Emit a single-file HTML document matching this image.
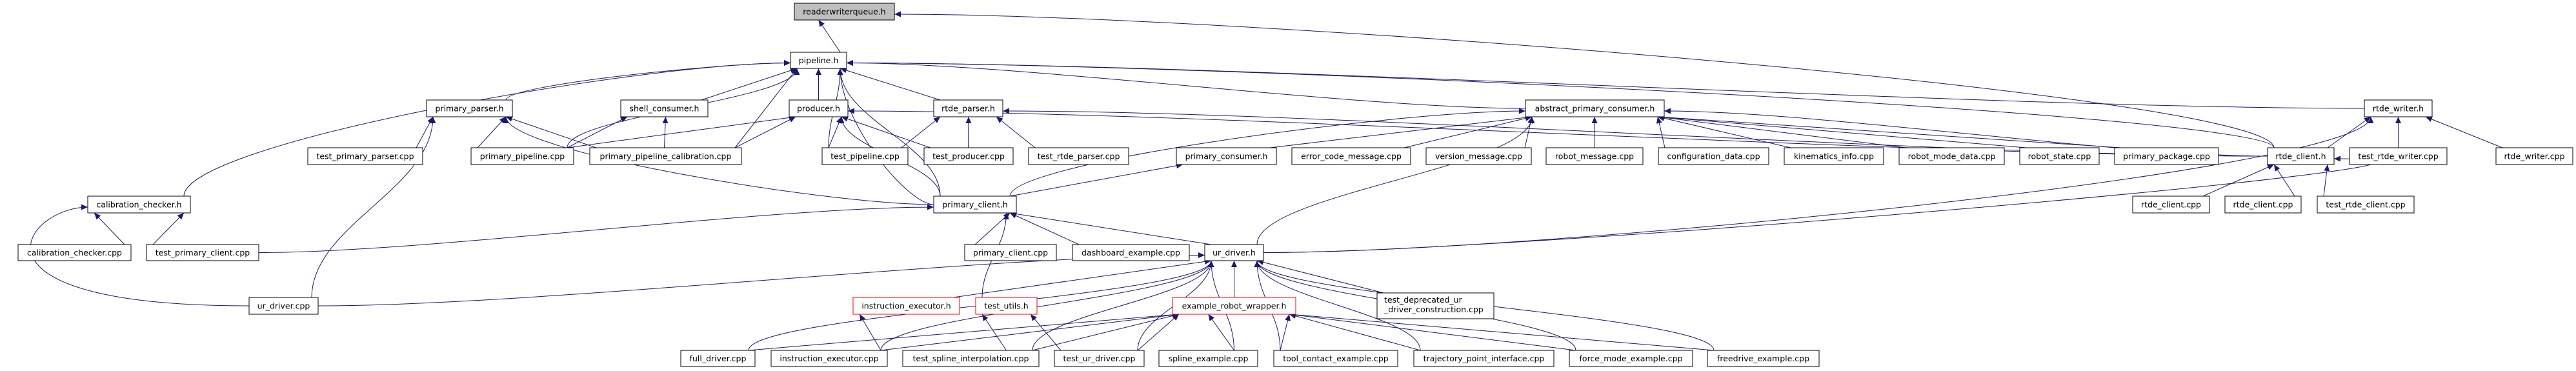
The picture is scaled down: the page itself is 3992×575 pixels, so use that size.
<!DOCTYPE html>
<html><head><meta charset="utf-8"><style>
html,body{margin:0;padding:0;background:#fff;width:3992px;height:575px;overflow:hidden}
svg{display:block}
text{font-family:"DejaVu Sans","Liberation Sans",sans-serif;font-size:12.5px;fill:#000}
</style></head><body>
<svg id="g" width="3992" height="575" xmlns="http://www.w3.org/2000/svg">
<defs><marker id="a" markerUnits="userSpaceOnUse" markerWidth="11" markerHeight="9" refX="10" refY="4.5" orient="auto"><path d="M0,0 L10,4.5 L0,9 z" fill="#191970"/></marker></defs>
<g id="edges" fill="none" stroke="#191970" stroke-width="1"></g>
<g id="nodes">
<rect x="1231" y="5" width="155" height="26" fill="#bfbfbf" stroke="#000"/><text x="1308.5" y="22.5" text-anchor="middle">readerwriterqueue.h</text>
<rect x="1225" y="81" width="87" height="25" fill="#fff" stroke="#000"/><text x="1268.5" y="98" text-anchor="middle">pipeline.h</text>
<rect x="661" y="155" width="133" height="26" fill="#fff" stroke="#000"/><text x="727.5" y="172.5" text-anchor="middle">primary_parser.h</text>
<rect x="962" y="155" width="135" height="26" fill="#fff" stroke="#000"/><text x="1029.5" y="172.5" text-anchor="middle">shell_consumer.h</text>
<rect x="1223" y="155" width="91" height="26" fill="#fff" stroke="#000"/><text x="1268.5" y="172.5" text-anchor="middle">producer.h</text>
<rect x="1447" y="155" width="107" height="26" fill="#fff" stroke="#000"/><text x="1500.5" y="172.5" text-anchor="middle">rtde_parser.h</text>
<rect x="2364" y="155" width="215" height="26" fill="#fff" stroke="#000"/><text x="2471.5" y="172.5" text-anchor="middle">abstract_primary_consumer.h</text>
<rect x="3664" y="155" width="105" height="26" fill="#fff" stroke="#000"/><text x="3716.5" y="172.5" text-anchor="middle">rtde_writer.h</text>
<rect x="477" y="229" width="178" height="26" fill="#fff" stroke="#000"/><text x="566" y="246.5" text-anchor="middle">test_primary_parser.cpp</text>
<rect x="730" y="229" width="159" height="26" fill="#fff" stroke="#000"/><text x="809.5" y="246.5" text-anchor="middle">primary_pipeline.cpp</text>
<rect x="914" y="229" width="235" height="26" fill="#fff" stroke="#000"/><text x="1031.5" y="246.5" text-anchor="middle">primary_pipeline_calibration.cpp</text>
<rect x="1274" y="229" width="133" height="26" fill="#fff" stroke="#000"/><text x="1340.5" y="246.5" text-anchor="middle">test_pipeline.cpp</text>
<rect x="1432" y="229" width="138" height="26" fill="#fff" stroke="#000"/><text x="1501" y="246.5" text-anchor="middle">test_producer.cpp</text>
<rect x="1594" y="229" width="155" height="26" fill="#fff" stroke="#000"/><text x="1671.5" y="246.5" text-anchor="middle">test_rtde_parser.cpp</text>
<rect x="1823" y="229" width="155" height="26" fill="#fff" stroke="#000"/><text x="1900.5" y="246.5" text-anchor="middle">primary_consumer.h</text>
<rect x="2002" y="229" width="184" height="26" fill="#fff" stroke="#000"/><text x="2094" y="246.5" text-anchor="middle">error_code_message.cpp</text>
<rect x="2210" y="229" width="163" height="26" fill="#fff" stroke="#000"/><text x="2291.5" y="246.5" text-anchor="middle">version_message.cpp</text>
<rect x="2396" y="229" width="150" height="26" fill="#fff" stroke="#000"/><text x="2471" y="246.5" text-anchor="middle">robot_message.cpp</text>
<rect x="2570" y="229" width="171" height="26" fill="#fff" stroke="#000"/><text x="2655.5" y="246.5" text-anchor="middle">configuration_data.cpp</text>
<rect x="2765" y="229" width="154" height="26" fill="#fff" stroke="#000"/><text x="2842" y="246.5" text-anchor="middle">kinematics_info.cpp</text>
<rect x="2943" y="229" width="163" height="26" fill="#fff" stroke="#000"/><text x="3024.5" y="246.5" text-anchor="middle">robot_mode_data.cpp</text>
<rect x="3130" y="229" width="123" height="26" fill="#fff" stroke="#000"/><text x="3191.5" y="246.5" text-anchor="middle">robot_state.cpp</text>
<rect x="3277" y="229" width="161" height="26" fill="#fff" stroke="#000"/><text x="3357.5" y="246.5" text-anchor="middle">primary_package.cpp</text>
<rect x="3514" y="229" width="103" height="26" fill="#fff" stroke="#000"/><text x="3565.5" y="246.5" text-anchor="middle">rtde_client.h</text>
<rect x="3641" y="229" width="151" height="26" fill="#fff" stroke="#000"/><text x="3716.5" y="246.5" text-anchor="middle">test_rtde_writer.cpp</text>
<rect x="3868" y="229" width="119" height="26" fill="#fff" stroke="#000"/><text x="3927.5" y="246.5" text-anchor="middle">rtde_writer.cpp</text>
<rect x="136" y="304" width="159" height="26" fill="#fff" stroke="#000"/><text x="215.5" y="321.5" text-anchor="middle">calibration_checker.h</text>
<rect x="1447" y="304" width="128" height="26" fill="#fff" stroke="#000"/><text x="1511" y="321.5" text-anchor="middle">primary_client.h</text>
<rect x="3305" y="304" width="119" height="26" fill="#fff" stroke="#000"/><text x="3364.5" y="321.5" text-anchor="middle">rtde_client.cpp</text>
<rect x="3448" y="304" width="118" height="26" fill="#fff" stroke="#000"/><text x="3507" y="321.5" text-anchor="middle">rtde_client.cpp</text>
<rect x="3591" y="304" width="150" height="26" fill="#fff" stroke="#000"/><text x="3666" y="321.5" text-anchor="middle">test_rtde_client.cpp</text>
<rect x="28" y="379" width="175" height="25" fill="#fff" stroke="#000"/><text x="115.5" y="396" text-anchor="middle">calibration_checker.cpp</text>
<rect x="227" y="379" width="174" height="25" fill="#fff" stroke="#000"/><text x="314" y="396" text-anchor="middle">test_primary_client.cpp</text>
<rect x="1495" y="379" width="142" height="25" fill="#fff" stroke="#000"/><text x="1566" y="396" text-anchor="middle">primary_client.cpp</text>
<rect x="1662" y="379" width="181" height="25" fill="#fff" stroke="#000"/><text x="1752.5" y="396" text-anchor="middle">dashboard_example.cpp</text>
<rect x="1867" y="379" width="91" height="25" fill="#fff" stroke="#000"/><text x="1912.5" y="396" text-anchor="middle">ur_driver.h</text>
<rect x="386" y="461" width="107" height="26" fill="#fff" stroke="#000"/><text x="439.5" y="478.5" text-anchor="middle">ur_driver.cpp</text>
<rect x="1322" y="461" width="165" height="26" fill="#fff" stroke="#ff0000"/><text x="1404.5" y="478.5" text-anchor="middle">instruction_executor.h</text>
<rect x="1512" y="461" width="95" height="26" fill="#fff" stroke="#ff0000"/><text x="1559.5" y="478.5" text-anchor="middle">test_utils.h</text>
<rect x="1817" y="461" width="191" height="26" fill="#fff" stroke="#ff0000"/><text x="1912.5" y="478.5" text-anchor="middle">example_robot_wrapper.h</text>
<rect x="2134" y="454" width="181" height="40" fill="#fff" stroke="#000"/><text x="2145" y="469">test_deprecated_ur</text><text x="2145" y="484">_driver_construction.cpp</text>
<rect x="1055" y="543" width="115" height="25" fill="#fff" stroke="#000"/><text x="1112.5" y="560" text-anchor="middle">full_driver.cpp</text>
<rect x="1195" y="543" width="180" height="25" fill="#fff" stroke="#000"/><text x="1285" y="560" text-anchor="middle">instruction_executor.cpp</text>
<rect x="1399" y="543" width="211" height="25" fill="#fff" stroke="#000"/><text x="1504.5" y="560" text-anchor="middle">test_spline_interpolation.cpp</text>
<rect x="1634" y="543" width="139" height="25" fill="#fff" stroke="#000"/><text x="1703.5" y="560" text-anchor="middle">test_ur_driver.cpp</text>
<rect x="1796" y="543" width="153" height="25" fill="#fff" stroke="#000"/><text x="1872.5" y="560" text-anchor="middle">spline_example.cpp</text>
<rect x="1974" y="543" width="192" height="25" fill="#fff" stroke="#000"/><text x="2070" y="560" text-anchor="middle">tool_contact_example.cpp</text>
<rect x="2191" y="543" width="217" height="25" fill="#fff" stroke="#000"/><text x="2299.5" y="560" text-anchor="middle">trajectory_point_interface.cpp</text>
<rect x="2432" y="543" width="191" height="25" fill="#fff" stroke="#000"/><text x="2527.5" y="560" text-anchor="middle">force_mode_example.cpp</text>
<rect x="2646" y="543" width="173" height="25" fill="#fff" stroke="#000"/><text x="2732.5" y="560" text-anchor="middle">freedrive_example.cpp</text>
</g>
</svg>
<script>
var R0=[5,31],R1=[81,106],R2=[155,181],R3=[229,255],R4=[304,330],R5=[379,404],R6=[461,487],R7=[543,568];
var N={rwq:[1231,1386,R0],pipe:[1225,1312,R1],pparser:[661,794,R2],shell:[962,1097,R2],prod:[1223,1314,R2],rtdep:[1447,1554,R2],apc:[2364,2579,R2],rtdew:[3664,3769,R2],
tpp:[477,655,R3],ppc:[730,889,R3],ppcc:[914,1149,R3],tpipe:[1274,1407,R3],tprod:[1432,1570,R3],trp:[1594,1749,R3],pcons:[1823,1978,R3],ecm:[2002,2186,R3],vm:[2210,2373,R3],rm:[2396,2546,R3],cd:[2570,2741,R3],ki:[2765,2919,R3],rmd:[2943,3106,R3],rs:[3130,3253,R3],pkg:[3277,3438,R3],rtdec:[3514,3617,R3],trw:[3641,3792,R3],rwc:[3868,3987,R3],
cch:[136,295,R4],pch:[1447,1575,R4],rcc1:[3305,3424,R4],rcc2:[3448,3566,R4],trc:[3591,3741,R4],
ccc:[28,203,R5],tpc:[227,401,R5],pcc:[1495,1637,R5],dash:[1662,1843,R5],urh:[1867,1958,R5],
urc:[386,493,R6],ieh:[1322,1487,R6],tuh:[1512,1607,R6],erw:[1817,2008,R6],tdep:[2134,2315,[454,494]],
full:[1055,1170,R7],iec:[1195,1375,R7],tsi:[1399,1610,R7],tur:[1634,1773,R7],spl:[1796,1949,R7],tce:[1974,2166,R7],tpi:[2191,2408,R7],fme:[2432,2623,R7],fde:[2646,2819,R7]};
var E=[["pipe","rwq"],["rtdec","rwq","T","R"],
["pparser","pipe","T","L"],["cch","pipe","T","L"],["ppc","pipe","T","B",1],["shell","pipe"],["prod","pipe"],["ppcc","pipe"],["tpipe","pipe","T","B",1],["rtdep","pipe"],["pch","pipe","L","B"],["pch","pipe","T","B",1],["apc","pipe","L","R"],["rtdew","pipe","L","R"],["rtdec","pipe","T","R"],
["ppc","pparser"],["ppcc","pparser"],["tpp","pparser"],["urc","pparser","T","B",1],["pch","pparser","L","B",1],
["ppc","shell"],["ppcc","shell"],
["ppc","prod"],["ppcc","prod"],["tpipe","prod"],["tprod","prod"],["pch","prod","T","B",1],["rtdec","prod","L","R"],
["tpipe","rtdep"],["tprod","rtdep"],["trp","rtdep"],["rtdec","rtdep","L","R"],
["pcons","apc"],["ecm","apc"],["vm","apc"],["rm","apc"],["cd","apc"],["ki","apc"],["rmd","apc"],["rs","apc"],["pkg","apc"],["pch","apc","T","L"],["rtdec","apc","L","R"],["urh","apc","T","B",1],
["ccc","cch"],["tpc","cch"],["urc","cch","L","L",1],
["pch","pcons"],
["pcc","pch"],["dash","pch"],["urh","pch"],["tuh","pch","T","B",1],["tpc","pch","R","L"],
["rtdec","rtdew"],["trw","rtdew"],["rwc","rtdew"],["urh","rtdew","R","B",1],
["rcc1","rtdec"],["rcc2","rtdec"],["trc","rtdec"],["urh","rtdec","R","R",1],
["urc","urh","R","L"],["full","urh","T","B",1],["ieh","urh"],["iec","urh","T","B",1],["tsi","urh","T","B",1],["tur","urh","T","B",1],["spl","urh","T","B",1],["erw","urh"],["tce","urh","T","B",1],["tdep","urh"],["tpi","urh","T","B",1],["fme","urh","T","B",1],["fde","urh","T","B",1],
["iec","ieh"],["tsi","tuh"],["tur","tuh"],
["full","erw"],["iec","erw"],["tsi","erw"],["tur","erw"],["spl","erw"],["tce","erw"],["tpi","erw"],["fme","erw"],["fde","erw"]];
function cl(v,a,b){return Math.max(a,Math.min(b,v));}
var g=document.getElementById("edges"),out="";
E.forEach(function(e){var s=N[e[0]],t=N[e[1]],sa=e[2]||"T",ta=e[3]||"B",curve=e[4];
var scx=(s[0]+s[1])/2,tcx=(t[0]+t[1])/2,sx,sy,tx,ty,c1,c2;
if(ta=="B"){tx=cl(scx,t[0]+10,t[1]-10);ty=t[2][1];}
else if(ta=="L"){tx=t[0];ty=(t[2][0]+t[2][1])/2+4;}
else{tx=t[1];ty=(t[2][0]+t[2][1])/2+4;}
if(sa=="T"){sx=cl(tcx,s[0]+10,s[1]-10);sy=s[2][0];}
else if(sa=="L"){sx=s[0];sy=(s[2][0]+s[2][1])/2;}
else{sx=s[1];sy=(s[2][0]+s[2][1])/2;}
var dx=tx-sx,dy=ty-sy;
if(sa=="T"&&ta=="B"&&!curve){out+='<path d="M'+sx+','+sy+' L'+tx+','+ty+'" marker-end="url(#a)"/>';return;}
if(sa=="T")c1=[sx,sy+dy*0.4];else if(sa=="L")c1=[sx-Math.max(40,Math.abs(dx)*0.25),sy];else c1=[sx+Math.max(40,Math.abs(dx)*0.25),sy];
if(ta=="B")c2=[tx,ty-dy*0.4];else if(ta=="L")c2=[tx-Math.max(40,Math.abs(dx)*0.25),ty];else c2=[tx+Math.max(40,Math.abs(dx)*0.25),ty];
if(e[0]=="urc"&&e[1]=="cch"){c1=[-80,sy];c2=[40,ty];}
out+='<path d="M'+sx+','+sy+' C'+c1[0]+','+c1[1]+' '+c2[0]+','+c2[1]+' '+tx+','+ty+'" marker-end="url(#a)"/>';});
g.innerHTML=out;
</script>
</body></html>
